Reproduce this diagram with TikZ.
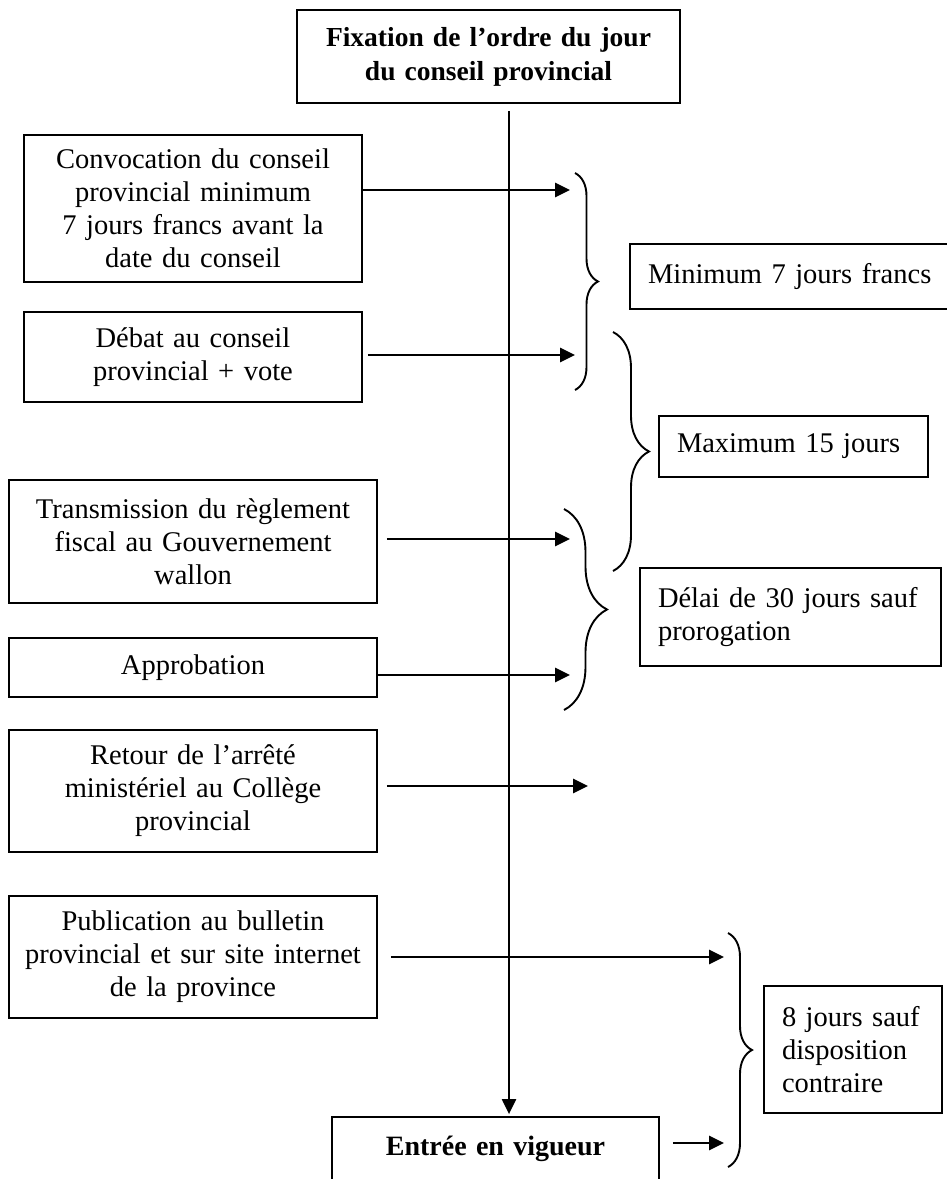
\documentclass[tikz,border=0pt]{standalone}
\usepackage{fontspec}
\setmainfont{Liberation Serif}
\usetikzlibrary{arrows.meta, decorations.pathreplacing}
\tikzset{fleche/.style={draw, line width=2.8pt, -{Triangle[length=15pt, width=14pt]}}}
\tikzset{etape/.style={rectangle, draw, line width=1.8pt, inner sep=0pt, text width=368pt, minimum height=122pt, align=center, font=\fontsize{28.5}{33}\selectfont}}
\tikzset{delai/.style={rectangle, draw, line width=1.8pt, inner xsep=18pt, inner ysep=0pt, align=left, font=\fontsize{28.5}{33}\selectfont}}
\tikzset{accolade/.style={draw, line width=1.9pt, decorate, decoration={brace, amplitude=#1}}}
\begin{document}
\begin{tikzpicture}[x=1pt, y=-1pt]
	
	\useasboundingbox (0,0) rectangle (946,1179);
	
	\node [etape, text width=383pt, minimum height=93pt, font=\fontsize{27.5}{34}\selectfont\bfseries] (fixation) at (488.5,56.5) {Fixation de l’ordre du jour \\ du conseil provincial};
	
	\node [etape, text width=338pt, minimum height=147pt] (conv) at (193,208.5) {Convocation du conseil \\ provincial minimum \\ 7 jours francs avant la \\ date du conseil};
	
	\node [etape, below of=conv, node distance=148.5pt, text width=338pt, minimum height=90pt] (debat) {Débat au conseil \\ provincial + vote};
	
	\node [etape, below of=debat, node distance=184.5pt, minimum height=123pt] (trans) {Transmission du règlement \\ fiscal au Gouvernement \\ wallon};
	
	\node [etape, below of=trans, node distance=126pt, minimum height=59pt] (approb) {Approbation};
	
	\node [etape, below of=approb, node distance=123.5pt] (retour) {Retour de l’arrêté \\ ministériel au Collège \\ provincial};
	
	\node [etape, below of=retour, node distance=166pt] (publi) {Publication au bulletin \\ provincial et sur site internet \\ de la province};
	
	\node [etape, text width=327pt, minimum height=0pt, text height=38pt, text depth=60pt, anchor=base, font=\fontsize{28}{33}\selectfont\bfseries] (entree) at (495.5,1155) {Entrée en vigueur};
	
	% delais
	\node [delai, text width=293pt, minimum height=65pt] (min7) at (794.5,276.5) {Minimum 7 jours francs};
	\node [delai, text width=233pt, minimum height=61pt] (max15) at (793.5,446.5) {Maximum 15 jours};
	\node [delai, text width=265pt, minimum height=98pt] (delai30) at (790.5,617) {Délai de 30 jours sauf \\ prorogation};
	\node [delai, text width=142pt, minimum height=127pt] (huitj) at (853,1049.5) {8 jours sauf \\ disposition \\ contraire};
	
	% fleches
	\coordinate (axe) at (509,0);
	\coordinate (f1) at (570,190);
	\coordinate (f2) at (575,355);
	\coordinate (f3) at (570,539);
	\coordinate (f4) at (570,675);
	\coordinate (f5) at (588,786);
	\coordinate (f6) at (724,957);
	\coordinate (f7) at (724,1143);
	
	\path [fleche, line width=2.2pt, shorten <=7pt, shorten >=2pt] (fixation.south -| axe) to (entree.north -| axe);
	
	\path [fleche] (conv.east |- f1) to (f1);
	\path [fleche, shorten <=5pt] (debat.east |- f2) to (f2);
	\path [fleche, shorten <=9pt] (trans.east |- f3) to (f3);
	\path [fleche] (approb.east |- f4) to (f4);
	\path [fleche, shorten <=9pt] (retour.east |- f5) to (f5);
	\path [fleche, shorten <=13pt] (publi.east |- f6) to (f6);
	\path [fleche, shorten <=13pt] (entree.east |- f7) to (f7);
	
	% accolades
	\coordinate (b1h) at (575,173);
	\coordinate (b1b) at (575,390);
	\coordinate (b2h) at (613,332);
	\coordinate (b2b) at (613,571);
	\coordinate (b3h) at (564,509);
	\coordinate (b3b) at (564,710);
	\coordinate (b4h) at (728,933);
	\coordinate (b4b) at (728,1167);
	
	\path [accolade=23pt] (b1h) -- (b1b);
	\path [accolade=36pt] (b2h) -- (b2b);
	\path [accolade=43pt] (b3h) -- (b3b);
	\path [accolade=24pt] (b4h) -- (b4b);
	
\end{tikzpicture}
\end{document}
